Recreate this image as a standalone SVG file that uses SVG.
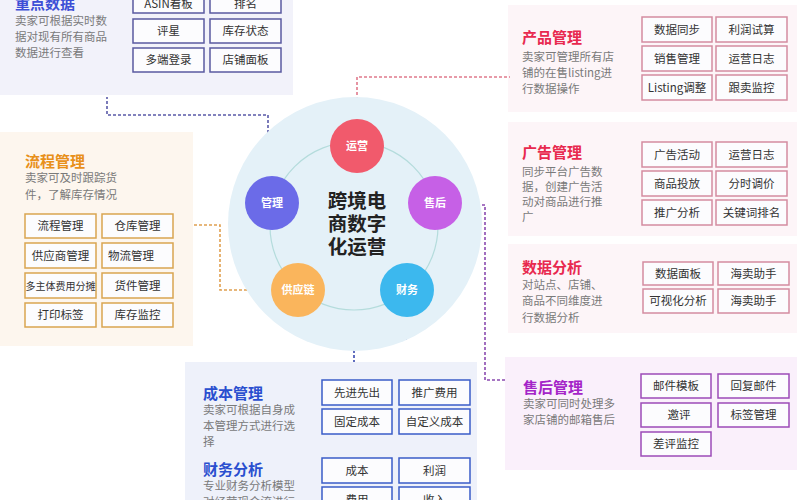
<svg xmlns="http://www.w3.org/2000/svg" width="800" height="500" viewBox="0 0 800 500">
<style>
text{font-family:"Noto Sans CJK SC","Noto Sans",sans-serif}
.t{font-size:15px;font-weight:bold}
.d{font-size:11.5px;fill:#7a7a7a}
.b{font-size:11.5px;fill:#333;text-anchor:middle}
.bx{fill:#fcfcfe;stroke-width:1.5}
.c{font-size:11px;fill:#fff;font-weight:bold;text-anchor:middle}
.cn{fill:none;stroke-width:1.6;stroke-dasharray:3 2}
.h{font-size:19.5px;font-weight:bold;fill:#222;text-anchor:middle}
</style>
<rect width="800" height="500" fill="#fff"/>

<g id="panel-zhongdian">
<rect x="0" y="0" width="293" height="95" fill="#f2f2fa"/>
<text class="t" x="15" y="9" fill="#3d4fd6">重点数据</text>
<text class="d" x="15" y="25">卖家可根据实时数</text>
<text class="d" x="15" y="41">据对现有所有商品</text>
<text class="d" x="15" y="57">数据进行查看</text>
<g stroke="#5a5aa0">
<rect class="bx" x="133" y="-11" width="71" height="24"/>
<rect class="bx" x="210" y="-11" width="71" height="24"/>
<rect class="bx" x="133" y="19" width="71" height="24"/>
<rect class="bx" x="210" y="19" width="71" height="24"/>
<rect class="bx" x="133" y="48" width="71" height="24"/>
<rect class="bx" x="210" y="48" width="71" height="24"/>
</g>
<text class="b" x="168.5" y="8">ASIN看板</text>
<text class="b" x="245.5" y="8">排名</text>
<text class="b" x="168.5" y="35">评星</text>
<text class="b" x="245.5" y="35">库存状态</text>
<text class="b" x="168.5" y="64">多端登录</text>
<text class="b" x="245.5" y="64">店铺面板</text>
</g>

<g id="panel-chanpin">
<rect x="508" y="5" width="289" height="107" fill="#fdf5f8"/>
<text class="t" x="522" y="43" fill="#e8294f">产品管理</text>
<text class="d" x="522" y="61">卖家可管理所有店</text>
<text class="d" x="522" y="77">铺的在售listing进</text>
<text class="d" x="522" y="93">行数据操作</text>
<g stroke="#d48ca0">
<rect class="bx" x="642" y="17" width="70" height="25"/>
<rect class="bx" x="716" y="17" width="71" height="25"/>
<rect class="bx" x="642" y="46" width="70" height="25"/>
<rect class="bx" x="716" y="46" width="71" height="25"/>
<rect class="bx" x="642" y="75" width="70" height="25"/>
<rect class="bx" x="716" y="75" width="71" height="25"/>
</g>
<text class="b" x="677" y="34">数据同步</text>
<text class="b" x="751.5" y="34">利润试算</text>
<text class="b" x="677" y="63">销售管理</text>
<text class="b" x="751.5" y="63">运营日志</text>
<text class="b" x="677" y="92">Listing调整</text>
<text class="b" x="751.5" y="92">跟卖监控</text>
</g>

<g id="panel-guanggao">
<rect x="508" y="122" width="289" height="114" fill="#fdf5f8"/>
<text class="t" x="522" y="158" fill="#e8294f">广告管理</text>
<text class="d" x="522" y="176">同步平台广告数</text>
<text class="d" x="522" y="191">据，创建广告活</text>
<text class="d" x="522" y="206">动对商品进行推</text>
<text class="d" x="522" y="221">广</text>
<g stroke="#d48ca0">
<rect class="bx" x="642" y="142" width="70" height="25"/>
<rect class="bx" x="716" y="142" width="71" height="25"/>
<rect class="bx" x="642" y="171" width="70" height="25"/>
<rect class="bx" x="716" y="171" width="71" height="25"/>
<rect class="bx" x="642" y="200" width="70" height="25"/>
<rect class="bx" x="716" y="200" width="71" height="25"/>
</g>
<text class="b" x="677" y="159">广告活动</text>
<text class="b" x="751.5" y="159">运营日志</text>
<text class="b" x="677" y="188">商品投放</text>
<text class="b" x="751.5" y="188">分时调价</text>
<text class="b" x="677" y="217">推广分析</text>
<text class="b" x="751.5" y="217">关键词排名</text>
</g>

<g id="panel-shuju">
<rect x="508" y="244" width="289" height="89" fill="#fdf5f8"/>
<text class="t" x="522" y="273" fill="#e8294f">数据分析</text>
<text class="d" x="522" y="289">对站点、店铺、</text>
<text class="d" x="522" y="305">商品不同维度进</text>
<text class="d" x="522" y="322">行数据分析</text>
<g stroke="#d48ca0">
<rect class="bx" x="643" y="262" width="70" height="23"/>
<rect class="bx" x="718" y="262" width="71" height="23"/>
<rect class="bx" x="643" y="289" width="70" height="24"/>
<rect class="bx" x="718" y="289" width="71" height="24"/>
</g>
<text class="b" x="678" y="278">数据面板</text>
<text class="b" x="753.5" y="278">海卖助手</text>
<text class="b" x="678" y="305">可视化分析</text>
<text class="b" x="753.5" y="305">海卖助手</text>
</g>

<g id="panel-shouhou">
<rect x="505" y="357" width="292" height="113" fill="#faf0fb"/>
<text class="t" x="523" y="393" fill="#a424c8">售后管理</text>
<text class="d" x="523" y="408">卖家可同时处理多</text>
<text class="d" x="523" y="424">家店铺的邮箱售后</text>
<g stroke="#9c4bb8">
<rect class="bx" x="641" y="374" width="70" height="24"/>
<rect class="bx" x="718" y="374" width="71" height="24"/>
<rect class="bx" x="641" y="403" width="70" height="24"/>
<rect class="bx" x="718" y="403" width="71" height="24"/>
<rect class="bx" x="641" y="432" width="70" height="24"/>
</g>
<text class="b" x="676" y="390">邮件模板</text>
<text class="b" x="753.5" y="390">回复邮件</text>
<text class="b" x="679" y="419">邀评</text>
<text class="b" x="753.5" y="419">标签管理</text>
<text class="b" x="676" y="448">差评监控</text>
</g>

<g id="panel-liucheng">
<rect x="0" y="132" width="193" height="214" fill="#fdf6ee"/>
<text class="t" x="25" y="167" fill="#e8901a">流程管理</text>
<text class="d" x="25" y="182">卖家可及时跟踪货</text>
<text class="d" x="25" y="199">件，了解库存情况</text>
<g stroke="#d9a550">
<rect class="bx" x="25" y="214" width="71" height="24"/>
<rect class="bx" x="102" y="214" width="71" height="24"/>
<rect class="bx" x="25" y="243" width="71" height="25"/>
<rect class="bx" x="102" y="243" width="71" height="25"/>
<rect class="bx" x="25" y="273" width="71" height="25"/>
<rect class="bx" x="102" y="273" width="71" height="25"/>
<rect class="bx" x="25" y="303" width="71" height="24"/>
<rect class="bx" x="102" y="303" width="71" height="24"/>
</g>
<text class="b" x="60.5" y="230">流程管理</text>
<text class="b" x="137.5" y="230">仓库管理</text>
<text class="b" x="60.5" y="260">供应商管理</text>
<text class="b" x="131" y="260">物流管理</text>
<text class="b" x="60.5" y="290" style="font-size:10px">多主体费用分摊</text>
<text class="b" x="137.5" y="290">货件管理</text>
<text class="b" x="60.5" y="319">打印标签</text>
<text class="b" x="137.5" y="319">库存监控</text>
</g>

<g id="panel-chengben">
<rect x="185" y="362" width="292" height="140" fill="#eef1fa"/>
<text class="t" x="203" y="399" fill="#2a4fcf">成本管理</text>
<text class="d" x="203" y="414">卖家可根据自身成</text>
<text class="d" x="203" y="430">本管理方式进行选</text>
<text class="d" x="203" y="446">择</text>
<text class="t" x="203" y="475" fill="#2a4fcf">财务分析</text>
<text class="d" x="203" y="490">专业财务分析模型</text>
<text class="d" x="203" y="506">对经营现金流进行</text>
<g stroke="#3a5cc8">
<rect class="bx" x="322" y="380" width="70" height="25"/>
<rect class="bx" x="399" y="380" width="71" height="25"/>
<rect class="bx" x="322" y="409" width="70" height="25"/>
<rect class="bx" x="399" y="409" width="71" height="25"/>
<rect class="bx" x="322" y="458" width="70" height="25"/>
<rect class="bx" x="399" y="458" width="71" height="25"/>
<rect class="bx" x="322" y="487" width="70" height="25"/>
<rect class="bx" x="399" y="487" width="71" height="25"/>
</g>
<text class="b" x="357" y="397">先进先出</text>
<text class="b" x="434.5" y="397">推广费用</text>
<text class="b" x="357" y="426">固定成本</text>
<text class="b" x="434.5" y="426">自定义成本</text>
<text class="b" x="357" y="475">成本</text>
<text class="b" x="434.5" y="475">利润</text>
<text class="b" x="357" y="504">费用</text>
<text class="b" x="434.5" y="504">收入</text>
</g>

<g id="connectors">
<path class="cn" stroke="#e07a8c" d="M357 120 V77 H510"/>
<path class="cn" stroke="#5a5aa8" d="M268 178 V115 H107 V97"/>
<path class="cn" stroke="#e0a050" d="M272 290 H220 V225 H193"/>
<path class="cn" stroke="#8a4ab0" d="M462 205 H485 V380 H505"/>
<path class="cn" stroke="#3a4ab0" d="M406 317 V339 H354 V362"/>
</g>

<g id="hub">
<circle cx="355" cy="224" r="127" fill="#e4f1f8"/>
<circle cx="354" cy="226" r="84" fill="none" stroke="#b4dcdc" stroke-width="1.2"/>
<text class="h" x="357" y="208">跨境电</text>
<text class="h" x="357" y="231">商数字</text>
<text class="h" x="357" y="254">化运营</text>
</g>
<g id="node-yunying">
<circle cx="357" cy="146" r="27" fill="#f15a6c"/>
<text class="c" x="357" y="150">运营</text>
</g>
<g id="node-shouhou">
<circle cx="435" cy="203" r="27" fill="#c660e6"/>
<text class="c" x="435" y="207">售后</text>
</g>
<g id="node-caiwu">
<circle cx="407" cy="290" r="27" fill="#3cb8ee"/>
<text class="c" x="407" y="294">财务</text>
</g>
<g id="node-gongyinglian">
<circle cx="298" cy="290" r="27" fill="#fab55c"/>
<text class="c" x="298" y="294">供应链</text>
</g>
<g id="node-guanli">
<circle cx="272" cy="203" r="27" fill="#6b6be8"/>
<text class="c" x="272" y="207">管理</text>
</g>
</svg>
